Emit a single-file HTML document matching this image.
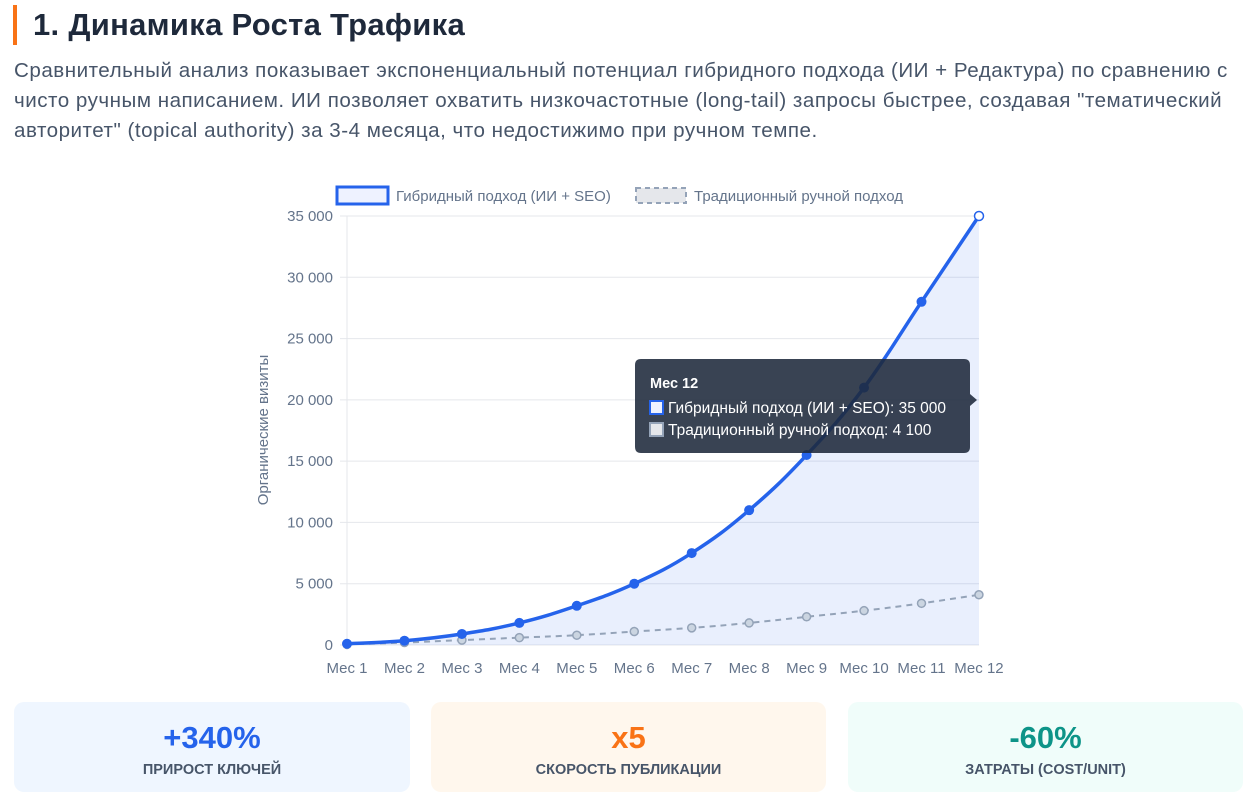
<!DOCTYPE html>
<html><head><meta charset="utf-8">
<style>
body{margin:0;width:1252px;height:800px;background:#fff;font-family:"Liberation Sans","Noto Sans CJK SC",sans-serif;overflow:hidden;position:relative}
.bar{position:absolute;left:13px;top:5px;width:4px;height:40px;background:#f97316}
h1{position:absolute;left:33px;top:4px;margin:0;font-size:31px;font-weight:bold;color:#1e293b;line-height:42px;letter-spacing:0.3px}
p{position:absolute;left:14px;top:56px;margin:0;width:1238px;font-size:20.6px;line-height:30px;color:#475569;white-space:nowrap;letter-spacing:0.5px}
.card{position:absolute;top:702px;height:90px;border-radius:10px;text-align:center}
.card b{display:block;margin-top:18px;font-size:31px;line-height:36px}
.card span{display:block;margin-top:6px;font-size:14.5px;font-weight:bold;color:#475569}
</style></head><body>
<div class="bar"></div>
<h1>1. Динамика Роста Трафика</h1>
<p>Сравнительный анализ показывает экспоненциальный потенциал гибридного подхода (ИИ + Редактура) по сравнению с<br>чисто ручным написанием. ИИ позволяет охватить низкочастотные (long-tail) запросы быстрее, создавая "тематический<br>авторитет" (topical authority) за 3-4 месяца, что недостижимо при ручном темпе.</p>
<svg id="c" width="1252" height="700" style="position:absolute;left:0;top:0" font-family="Liberation Sans, sans-serif"></svg>
<div class="card" style="left:14px;width:396px;background:#eff6ff"><b style="color:#2563eb">+340%</b><span>ПРИРОСТ КЛЮЧЕЙ</span></div>
<div class="card" style="left:431px;width:395px;background:#fff7ed"><b style="color:#f97316">x5</b><span>СКОРОСТЬ ПУБЛИКАЦИИ</span></div>
<div class="card" style="left:848px;width:395px;background:#f0fdfa"><b style="color:#0d9488">-60%</b><span>ЗАТРАТЫ (COST/UNIT)</span></div>
<script>
var s='',X=function(i){return 347+i*57.45},Y=function(v){return 645-v*0.012257};
for(var k=0;k<=7;k++){var y=Y(k*5000);s+='<line x1="340" x2="979" y1="'+y+'" y2="'+y+'" stroke="#e5e7eb"/>';
s+='<text x="333" y="'+(y+5)+'" text-anchor="end" font-size="15" fill="#64748b">'+(k==0?'0':(k*5)+' 000')+'</text>';}
s+='<line x1="347" x2="347" y1="216" y2="650" stroke="#e5e7eb"/>';
for(var i=0;i<12;i++)s+='<text x="'+X(i)+'" y="673" text-anchor="middle" font-size="15" fill="#64748b">Мес '+(i+1)+'</text>';
s+='<text transform="translate(268,430) rotate(-90)" text-anchor="middle" font-size="15" fill="#64748b">Органические визиты</text>';
var h=[100,350,900,1800,3200,5000,7500,11000,15500,21000,28000,35000],t=[50,200,400,600,800,1100,1400,1800,2300,2800,3400,4100];
function path(d){var p=d.map(function(v,i){return[X(i),Y(v)]}),r='M'+p[0];for(var i=0;i<p.length-1;i++){var a=p[i-1]||p[i],b=p[i],c=p[i+1],e=p[i+2]||c,f=0.4/2;
r+=' C'+(b[0]+(c[0]-a[0])*f)+','+(b[1]+(c[1]-a[1])*f)+' '+(c[0]-(e[0]-b[0])*f)+','+(c[1]-(e[1]-b[1])*f)+' '+c;}return r}
var ph=path(h);
s+='<path d="'+ph+' L979,645 L347,645 Z" fill="rgba(37,99,235,0.1)"/>';
s+='<path d="'+path(t)+'" fill="none" stroke="#94a3b8" stroke-width="2" stroke-dasharray="6,5"/>';
t.forEach(function(v,i){s+='<circle cx="'+X(i)+'" cy="'+Y(v)+'" r="4" fill="#cbd5e1" stroke="#94a3b8" stroke-width="1.5"/>'});
s+='<path d="'+ph+'" fill="none" stroke="#2563eb" stroke-width="3.5"/>';
h.forEach(function(v,i){s+=i==11?'<circle cx="979" cy="216" r="4.5" fill="#fff" stroke="#2563eb" stroke-width="1.5"/>':'<circle cx="'+X(i)+'" cy="'+Y(v)+'" r="5" fill="#2563eb"/>'});
s+='<rect x="337" y="187" width="51" height="17" fill="#eef2ff" stroke="#2563eb" stroke-width="3"/><text x="396" y="201" font-size="15" fill="#64748b">Гибридный подход (ИИ + SEO)</text>';
s+='<rect x="636" y="188" width="50" height="15" fill="#e5e7eb" stroke="#94a3b8" stroke-width="2" stroke-dasharray="5,4"/><text x="694" y="201" font-size="15" fill="#64748b">Традиционный ручной подход</text>';
s+='<path d="M641,359 H964 Q970,359 970,365 V394 L977,400 L970,406 V447 Q970,453 964,453 H641 Q635,453 635,447 V365 Q635,359 641,359Z" fill="rgba(30,41,59,0.88)"/>';
s+='<text x="650" y="388" font-size="14.5" font-weight="bold" fill="#fff">Мес 12</text>';
s+='<rect x="650" y="401" width="13" height="13" fill="#eef2ff" stroke="#2563eb" stroke-width="2"/><text x="668" y="413" font-size="15.5" fill="#fff">Гибридный подход (ИИ + SEO): 35 000</text>';
s+='<rect x="650" y="423" width="13" height="13" fill="#e5e7eb" stroke="#94a3b8" stroke-width="2"/><text x="668" y="435" font-size="15.5" fill="#fff">Традиционный ручной подход: 4 100</text>';
document.getElementById('c').innerHTML=s;
</script>
</body></html>
